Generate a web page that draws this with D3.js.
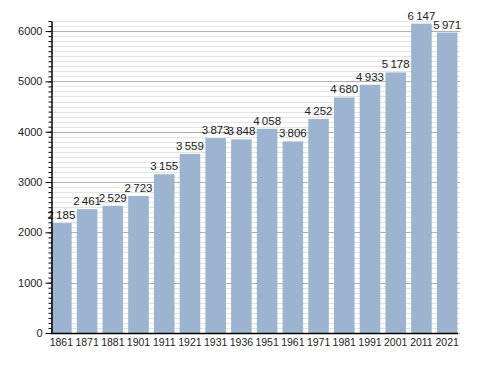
<!DOCTYPE html>
<html>
<head>
<meta charset="utf-8">
<script src="https://cdn.jsdelivr.net/npm/d3@7"></script>
<style>
  body { margin: 0; background: #fff; }
  text { font-family: "Liberation Sans", Arial, sans-serif; fill: #222; }
</style>
</head>
<body>
<div id="chart"></div>
<script>
var years = ["1861", "1871", "1881", "1901", "1911", "1921", "1931", "1936",
    "1951", "1961", "1971", "1981", "1991", "2001", "2011", "2021"];
var population = [2185, 2461, 2529, 2723, 3155, 3559, 3873, 3848,
    4058, 3806, 4252, 4680, 4933, 5178, 6147, 5971];
var majorTicks = [0, 1000, 2000, 3000, 4000, 5000, 6000];

(function () {
    "use strict";
    var width = 488, height = 373,
        left = 48.5, right = 460, top = 21, bottom = 333,
        svg, x, y, minor, fmt;

    svg = d3.select("#chart").append("svg")
        .attr("width", width)
        .attr("height", height);

    x = d3.scaleBand().domain(years).range([left, right]).paddingInner(0.2).paddingOuter(0.1);
    y = d3.scaleLinear().domain([0, 6200]).range([bottom, top]);

    minor = d3.range(0, 6201, 100);

    // grid
    svg.append("g").selectAll("line").data(minor).enter().append("line")
        .attr("x1", 51).attr("x2", right)
        .attr("y1", function (d) { return Math.round(y(d)) + 0.5; })
        .attr("y2", function (d) { return Math.round(y(d)) + 0.5; })
        .attr("stroke", function (d) { return d % 1000 === 0 ? "#b0b0b0" : "#e3e3e3"; })
        .attr("stroke-width", 1);

    // bars
    svg.append("g").selectAll("rect").data(population).enter().append("rect")
        .attr("x", function (d, i) { return x(years[i]); })
        .attr("width", x.bandwidth())
        .attr("y", function (d) { return y(d); })
        .attr("height", function (d) { return bottom - y(d); })
        .attr("fill", "#9cb4cf");

    fmt = function (v) {
        var s = String(v);
        return s.length > 3 ? s.slice(0, s.length - 3) + "\u2009" + s.slice(-3) : s;
    };

    // value labels
    svg.append("g").selectAll("text").data(population).enter().append("text")
        .attr("x", function (d, i) { return x(years[i]) + x.bandwidth() / 2; })
        .attr("y", function (d) { return y(d) - 4; })
        .attr("text-anchor", "middle")
        .attr("font-size", "11.5px")
        .text(fmt);

    // y axis minor ticks
    svg.append("g").attr("transform", "translate(51.5,0)")
        .call(d3.axisLeft(y).tickValues(minor).tickSize(3).tickFormat(""))
        .call(function (g) { g.select(".domain").remove(); });

    // y axis major
    svg.append("g").attr("transform", "translate(51.5,0)")
        .call(d3.axisLeft(y).tickValues(majorTicks).tickSize(6).tickSizeOuter(0).tickPadding(3)
            .tickFormat(d3.format("d")))
        .call(function (g) {
            g.selectAll("text").attr("font-size", "11px").attr("fill", "#222");
            g.select(".domain").attr("stroke-width", 1.5);
        });

    // x axis
    svg.append("g").attr("transform", "translate(0," + (bottom + 0.5) + ")")
        .call(d3.axisBottom(x).tickSize(0).tickSizeOuter(0).tickPadding(5))
        .call(function (g) {
            g.select(".domain").attr("stroke-width", 1.5)
                .attr("d", "M51,0H458");
            g.selectAll("text").attr("font-size", "10.5px").attr("fill", "#222");
        });
}());
</script>
</body>
</html>
